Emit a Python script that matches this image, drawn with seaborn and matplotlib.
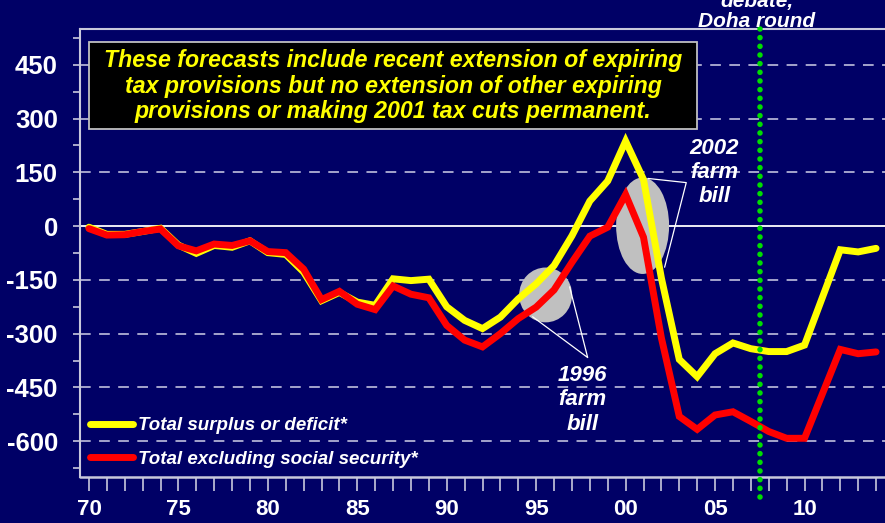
import matplotlib
matplotlib.use("Agg")
import matplotlib.pyplot as plt
from matplotlib.patches import Ellipse, Rectangle
from matplotlib.ticker import MultipleLocator, FixedLocator
import seaborn as sns
import pandas as pd

# ---- data (billions of dollars) ----
years = list(range(1970, 2015))
total_surplus = [-3, -23, -23, -15, -6, -53, -76, -54, -59, -41,
                 -74, -79, -128, -208, -185, -212, -221, -147, -152, -148,
                 -225, -263, -286, -254, -203, -161, -110, -27, 70, 126,
                 237, 130, -145, -372, -420, -356, -326, -342, -350, -350,
                 -332, -199, -66, -72, -62]
total_excl_ss = [-7, -25, -24, -15, -8, -55, -69, -50, -54, -41,
                 -71, -74, -120, -205, -182, -218, -233, -167, -190, -200,
                 -277, -318, -337, -300, -258, -226, -178, -101, -28, -3,
                 88, -31, -312, -531, -567, -527, -518, -545, -573, -592,
                 -592, -468, -344, -356, -351]
series_names = ["Total surplus or deficit*", "Total excluding social security*"]
series_colors = ["#FFFF00", "#FF0000"]
x_tick_labels = ["70", "75", "80", "85", "90", "95", "00", "05", "10"]
y_tick_values = [-600, -450, -300, -150, 0, 150, 300, 450]

df = pd.DataFrame({
    "year": years * 2,
    "value": total_surplus + total_excl_ss,
    "series": [series_names[0]] * len(years) + [series_names[1]] * len(years),
})

BG = "#000066"
sns.set_theme(style="white")
plt.rcParams["font.family"] = ["Liberation Sans", "DejaVu Sans"]
plt.rcParams["axes.unicode_minus"] = False

fig = plt.figure(figsize=(8.85, 5.23), dpi=100, facecolor=BG)
ax = fig.add_axes([80 / 885, 46 / 523, 805 / 885, 448 / 523])
ax.set_facecolor(BG)

# ellipses (under lines)
ax.add_patch(Ellipse((1995.53, -192), 2.96, 153, facecolor="#C0C0C0", edgecolor="none", zorder=1))
ax.add_patch(Ellipse((2000.95, 1), 2.96, 269, facecolor="#C0C0C0", edgecolor="none", zorder=1))

# grid lines
for v in y_tick_values:
    if v == 0:
        ax.axhline(v, color="white", lw=1.3, zorder=0.5)
    else:
        ax.axhline(v, color="#D0D0E8", lw=1.1, ls=(0, (7, 5.5)), zorder=0.5)

sns.lineplot(data=df, x="year", y="value", hue="series", hue_order=series_names,
             palette=series_colors, linewidth=5, ax=ax, zorder=3,
             solid_capstyle="round", solid_joinstyle="miter", legend=True)

ax.set_xlim(1969.5, 2014.5)
ax.set_ylim(-700, 550)

# axes styling
for s in ["right", "bottom"]:
    ax.spines[s].set_visible(False)
ax.spines["left"].set_color("#C8C8DC")
ax.spines["left"].set_linewidth(1.5)
ax.spines["top"].set_color("#C8C8DC")
ax.spines["top"].set_linewidth(1.5)
ax.axhline(-700, color="#C8C8DC", lw=1.8, zorder=2, clip_on=False)

ax.xaxis.set_major_locator(FixedLocator(list(range(1970, 2011, 5))))
ax.set_xticklabels(x_tick_labels)
ax.xaxis.set_minor_locator(MultipleLocator(1))
ax.yaxis.set_major_locator(FixedLocator(y_tick_values))
ax.yaxis.set_minor_locator(MultipleLocator(75))
ax.tick_params(axis="x", which="both", length=10, width=1.2, color="#C8C8DC",
               direction="out", bottom=True, pad=6)
ax.tick_params(axis="x", which="major", labelsize=16, labelcolor="white")
ax.tick_params(axis="y", which="both", length=5, width=1.2, color="#C8C8DC",
               direction="out", left=True, pad=11)
ax.tick_params(axis="y", which="major", labelsize=18.5, labelcolor="white")
for lab in ax.get_xticklabels() + ax.get_yticklabels():
    lab.set_fontweight("bold")
ax.set_xlabel("")
ax.set_ylabel("")

# green dotted vertical line
ax.axvline(2007.5, ymin=-0.045, ymax=1.003, color="#00DD00", lw=4,
           ls=(0, (0.01, 1.55)), dash_capstyle="round", clip_on=False, zorder=4)

# legend
handles, labels = ax.get_legend_handles_labels()
leg = ax.legend(handles, labels, loc="lower left", bbox_to_anchor=(0.012, 0.02),
                frameon=False, handlelength=2.3, handletextpad=0.3,
                labelspacing=0.88, borderaxespad=0, borderpad=0,
                prop={"family": "Liberation Sans", "weight": "bold",
                      "style": "italic", "size": 13.5})
leg.set_zorder(6)
for t in leg.get_texts():
    t.set_color("white")
for h in leg.get_lines():
    h.set_linewidth(5)
    h.set_solid_capstyle("round")

# annotation text box
fig.patches.append(Rectangle((89 / 885, 1 - 129 / 523), 608 / 885, 87 / 523,
                             transform=fig.transFigure, facecolor="black",
                             edgecolor="#C0C0C0", linewidth=1.3, zorder=7))
fig.text(393 / 885, 1 - 86 / 523,
         "These forecasts include recent extension of expiring\n"
         "tax provisions but no extension of other expiring\n"
         "provisions or making 2001 tax cuts permanent.",
         ha="center", va="center", multialignment="center", color="#FFFF00",
         fontsize=16.7, fontweight="bold", fontstyle="italic",
         linespacing=1.12, zorder=8)

# farm bill labels
txt_kw = dict(ha="center", va="center", color="white", fontsize=16,
              fontweight="bold", fontstyle="italic", linespacing=1.2, zorder=5)
ax.text(2004.97, 150, "2002\nfarm\nbill", **txt_kw)
ax.text(1997.6, -485, "1996\nfarm\nbill", **txt_kw)

# leader lines
ax.plot([1994.8, 1997.88, 1996.87], [-252.8, -366.7, -169.4], color="white", lw=0.9, zorder=2)
ax.plot([2001.25, 2003.39, 2002.18], [133, 121.4, -114.7], color="white", lw=0.9, zorder=2)

# top text (partially cut off, as in the original)
fig.text(757 / 885, 1 - 31 / 523, "debate,\nDoha round", ha="center", va="bottom",
         color="white", fontsize=15, fontweight="bold", fontstyle="italic",
         linespacing=1.1)

fig.savefig("out.png", dpi=100, facecolor=BG)
